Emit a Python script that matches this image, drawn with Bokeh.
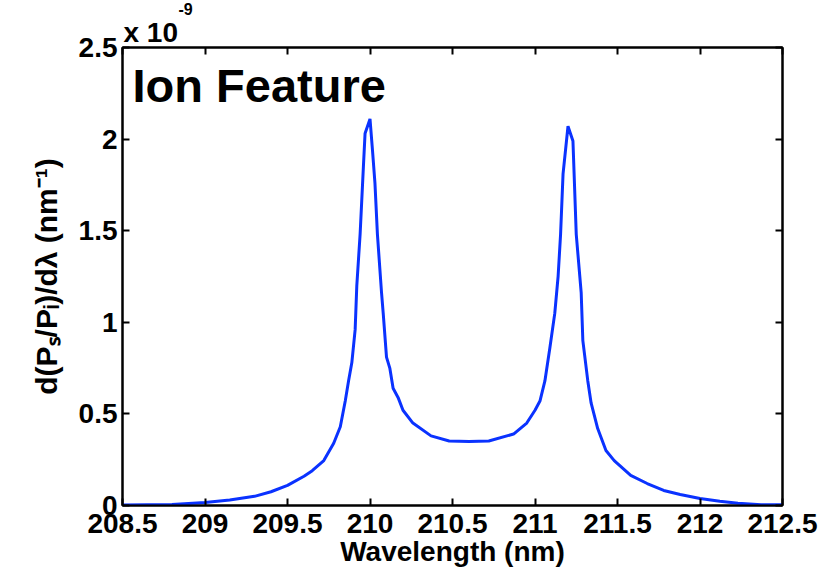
from bokeh.plotting import figure
from bokeh.models import LinearAxis, FixedTicker, Label, Range1d, Title
from bokeh.embed import file_html
from bokeh.resources import INLINE

# Data (y in units of 1e-9 nm^-1)
wavelength = [208.5, 208.8, 209.0, 209.15, 209.3, 209.4, 209.5, 209.6, 209.65, 209.72,
              209.78, 209.82, 209.85, 209.87, 209.89, 209.91, 209.92, 209.94, 209.96, 209.97,
              210.0, 210.015, 210.03, 210.045, 210.07, 210.08, 210.10, 210.12, 210.14, 210.17,
              210.2, 210.26, 210.37, 210.48, 210.6, 210.72, 210.87, 210.95, 211.0, 211.03,
              211.06, 211.09, 211.12, 211.14, 211.155, 211.17, 211.20, 211.23, 211.25, 211.28,
              211.29, 211.32, 211.34, 211.38, 211.43, 211.48, 211.58, 211.68, 211.78, 211.88,
              212.0, 212.12, 212.23, 212.37, 212.5]
signal = [0.003, 0.006, 0.016, 0.03, 0.05, 0.075, 0.11, 0.16, 0.19, 0.245,
          0.34, 0.43, 0.57, 0.68, 0.78, 0.96, 1.2, 1.48, 1.85, 2.03,
          2.11, 1.94, 1.76, 1.48, 1.16, 1.05, 0.81, 0.75, 0.64, 0.59,
          0.52, 0.45, 0.38, 0.352, 0.35, 0.352, 0.39, 0.45, 0.52, 0.57,
          0.68, 0.86, 1.05, 1.25, 1.48, 1.81, 2.07, 1.99, 1.48, 1.16,
          0.9, 0.68, 0.56, 0.42, 0.30, 0.245, 0.164, 0.12, 0.082, 0.06,
          0.038, 0.023, 0.012, 0.004, 0.004]

x_ticks = [208.5, 209.0, 209.5, 210.0, 210.5, 211.0, 211.5, 212.0, 212.5]
x_tick_labels = ["208.5", "209", "209.5", "210", "210.5", "211", "211.5", "212", "212.5"]
y_ticks = [0.0, 0.5, 1.0, 1.5, 2.0, 2.5]
y_tick_labels = ["0", "0.5", "1", "1.5", "2", "2.5"]

FONT = "Liberation Sans"

p = figure(width=838, height=580, output_backend="svg", toolbar_location=None,
           x_range=Range1d(208.5, 212.5), y_range=Range1d(0, 2.5),
           min_border_left=122, min_border_right=56, min_border_top=47, min_border_bottom=75)
p.grid.visible = False
p.outline_line_color = "black"
p.outline_line_width = 2
p.background_fill_color = "white"
p.border_fill_color = "white"

p.line(wavelength, signal, line_color="#0a32ff", line_width=3)

def style_axis(ax, ticks, labels, show_labels=True):
    ax.ticker = FixedTicker(ticks=ticks)
    ax.major_label_overrides = {t: l for t, l in zip(ticks, labels)}
    ax.minor_tick_line_color = None
    ax.major_tick_in = 7
    ax.major_tick_out = 0
    ax.major_tick_line_width = 2
    ax.major_tick_line_color = "black"
    ax.axis_line_width = 2
    ax.axis_line_color = "black"
    ax.major_label_text_font = FONT
    ax.major_label_text_font_style = "bold"
    ax.major_label_text_font_size = "28px"
    ax.major_label_text_color = "black"
    ax.axis_label_text_color = "black"
    if not show_labels:
        ax.major_label_text_color = None
        ax.major_label_text_font_size = "0px"
        ax.major_label_standoff = 0

xa = p.xaxis[0]
style_axis(xa, x_ticks, x_tick_labels)
xa.major_label_standoff = 8
xa.axis_label = "Wavelength (nm)"
xa.axis_label_text_font = FONT
xa.axis_label_text_font_style = "bold"
xa.axis_label_text_font_size = "28px"
xa.axis_label_standoff = 0

ya = p.yaxis[0]
style_axis(ya, y_ticks, y_tick_labels)
ya.major_label_standoff = 5
ya.axis_label = "d(Pₛ/Pᵢ)/dλ (nm⁻¹)"
ya.axis_label_text_font = FONT
ya.axis_label_text_font_style = "bold"
ya.axis_label_text_font_size = "30px"
ya.axis_label_standoff = 13

top = LinearAxis()
style_axis(top, x_ticks, x_tick_labels, show_labels=False)
p.add_layout(top, "above")
right = LinearAxis()
style_axis(right, y_ticks, y_tick_labels, show_labels=False)
p.add_layout(right, "right")

# Exponent of the y axis, above the axes: "x 10" with a raised "-9"
exp_base = Title(text="x 10", align="left", offset=1, standoff=0,
                 text_font=FONT, text_font_style="bold", text_font_size="28px",
                 text_color="black", text_line_height=0.85)
p.add_layout(exp_base, "above")
p.title.text = "-9"
p.title.align = "left"
p.title.offset = 56
p.title.standoff = 0
p.title.text_font = FONT
p.title.text_font_style = "bold"
p.title.text_font_size = "16px"
p.title.text_line_height = 0.85
p.title.text_color = "black"

# Title inside the axes
p.add_layout(Label(x=208.5, y=2.5, x_offset=10, y_offset=-38, text="Ion Feature",
                   text_font=FONT, text_font_style="bold", text_font_size="47px",
                   text_baseline="middle", text_align="left", text_color="black"))

open("out.html", "w").write(file_html(p, INLINE))
